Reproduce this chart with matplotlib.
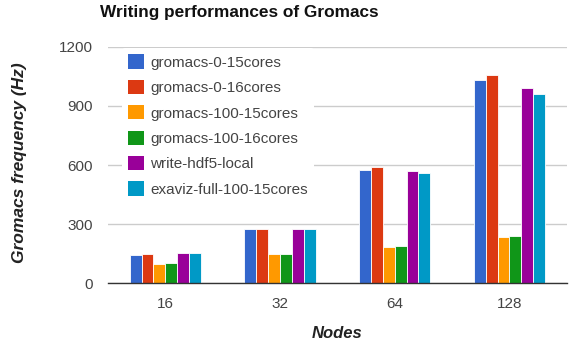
import matplotlib
matplotlib.use("Agg")
import matplotlib.pyplot as plt
from matplotlib.patches import Patch
import numpy as np

plt.rcParams['font.family'] = ['Liberation Sans', 'DejaVu Sans']

categories = ["16", "32", "64", "128"]
series_names = ["gromacs-0-15cores", "gromacs-0-16cores", "gromacs-100-15cores",
                "gromacs-100-16cores", "write-hdf5-local", "exaviz-full-100-15cores"]
gromacs_0_15 = [142, 276, 575, 1032]
gromacs_0_16 = [148, 276, 591, 1058]
gromacs_100_15 = [98, 148, 184, 233]
gromacs_100_16 = [104, 148, 189, 240]
write_hdf5_local = [154, 276, 568, 989]
exaviz_full_100_15 = [154, 276, 561, 958]
series = [gromacs_0_15, gromacs_0_16, gromacs_100_15, gromacs_100_16,
          write_hdf5_local, exaviz_full_100_15]
colors = ["#3366CC", "#DC3912", "#FF9900", "#109618", "#990099", "#0099C6"]
yticks = [0, 300, 600, 900, 1200]

fig = plt.figure(figsize=(5.76, 3.41), dpi=100)
ax = fig.add_axes([0.1875, 0.169, 0.7965, 0.694])

x = np.arange(len(categories))
n = len(series)
group_w = 0.62
bw = group_w / n
for i, (vals, c) in enumerate(zip(series, colors)):
    ax.bar(x - group_w / 2 + bw * (i + 0.5), vals, width=bw, color=c,
           edgecolor="white", linewidth=0.6, zorder=3)

ax.set_xlim(-0.5, len(categories) - 0.5)
ax.set_ylim(0, 1200)
ax.set_yticks(yticks)
ax.set_yticklabels([str(v) for v in yticks])
ax.set_xticks(x)
ax.set_xticklabels(categories)
ax.grid(axis="y", color="#cccccc", linewidth=1, zorder=0)
ax.tick_params(axis="both", length=0, labelsize=11, colors="#444444")
ax.tick_params(axis="y", pad=10.7)
ax.tick_params(axis="x", pad=10)
for s in ["top", "right", "left"]:
    ax.spines[s].set_visible(False)
ax.spines["bottom"].set_color("#333333")
ax.spines["bottom"].set_linewidth(1)
ax.spines["bottom"].set_zorder(4)

ax.set_xlabel("Nodes", fontsize=12, fontweight="bold", fontstyle="italic",
              color="#222222")
ax.xaxis.set_label_coords(0.5, -(333 - 283.3) / 236.6)
ax.xaxis.label.set_va("center")
ax.set_ylabel("Gromacs frequency (Hz)", fontsize=12.5, fontweight="bold",
              fontstyle="italic", color="#222222")
ax.yaxis.set_label_coords(-(108 - 27) / 459, (283.3 - 163) / 236.6)

fig.text(100 / 576, 1 - 12 / 341, "Writing performances of Gromacs", fontsize=12.4,
         fontweight="bold", color="#111111", ha="left", va="center")

handles = [Patch(facecolor=c, edgecolor="none") for c in colors]
leg = ax.legend(handles, series_names, loc="upper left",
                bbox_to_anchor=(0.031, 0.993), frameon=True, fontsize=11,
                handlelength=1.05, handleheight=1.05, handletextpad=0.4,
                labelspacing=0.66, borderpad=0.4, borderaxespad=0)
leg.get_frame().set_facecolor("white")
leg.get_frame().set_edgecolor("none")
leg.get_frame().set_alpha(1)
leg.set_zorder(5)
for t in leg.get_texts():
    t.set_color("#444444")

fig.savefig("out.png", dpi=100, facecolor="white")
